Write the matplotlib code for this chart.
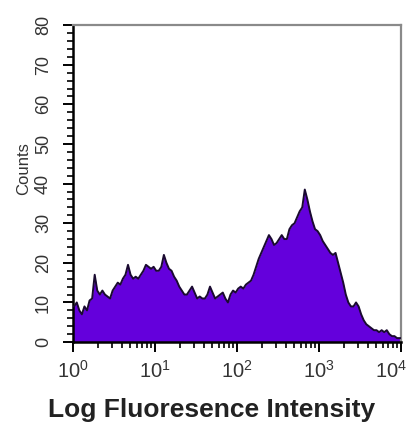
import numpy as np
import matplotlib; matplotlib.use('Agg')
import matplotlib.pyplot as plt
import matplotlib.transforms as mtrans
from matplotlib.ticker import MultipleLocator, LogLocator, NullFormatter

plt.rcParams['font.family'] = ['Liberation Sans', 'DejaVu Sans']

# --- Donnees: comptes par canal (128 canaux log sur 4 decades) ---
counts = [
    9, 10, 8, 7, 9, 8, 10.5, 11, 17, 13,
    12, 13, 12, 11.5, 11, 13, 14, 15, 14.5, 16,
    17, 19.5, 17, 16, 16.5, 16, 17, 18, 19.5, 19,
    18.5, 19, 18, 18, 19, 22, 20, 18.5, 18, 16.5,
    15.5, 14, 13, 12, 12, 13, 14, 12.5, 11, 11.5,
    11, 11, 12, 14, 12.5, 11, 11.5, 12, 12.5, 11,
    10, 12, 13, 12.5, 13.5, 14, 13.5, 14.5, 15, 15.5,
    17, 19, 21, 22.5, 24, 25.5, 27, 26, 24.5, 25,
    26, 27, 26, 26, 28.5, 29.5, 30, 31.5, 33, 34,
    38.5, 36, 33, 30.5, 28.5, 28, 27, 25.5, 24.5, 23.5,
    22.5, 22, 22.5, 20, 17.5, 15, 12, 10, 9, 9,
    10, 9, 7, 5.5, 4.5, 4, 3.5, 3, 3, 2.5,
    3, 2.5, 3, 2, 1.5, 1.5, 1, 1,
]
decades = (0, 4)
y_max = 80
y_ticks = [0, 10, 20, 30, 40, 50, 60, 70, 80]

fill_col = '#6400dc'

counts = np.array(counts, dtype=float)
n = len(counts)
# centres des canaux (log), avec les bords pour fermer le trace
lc = decades[0] + (np.arange(n) + 0.5) * (decades[1] - decades[0]) / n
xs = np.concatenate([[10**decades[0]], 10**lc, [10**decades[1]]])
ys = np.concatenate([[counts[0]], counts, [counts[-1]]])

fig = plt.figure(figsize=(4.12, 4.33), dpi=100)
ax = fig.add_axes([0.177, 0.21, 0.796, 0.732])

ax.fill_between(xs, ys, color=fill_col, lw=0, zorder=2)
ax.plot(xs, ys, color='#1a0a30', lw=1.4, zorder=3)

ax.set_xscale('log')
ax.set_xlim(10**decades[0], 10**decades[1])
ax.set_ylim(0, y_max)

# Axe Y
ax.set_yticks(y_ticks)
ax.yaxis.set_minor_locator(MultipleLocator(2))
ax.set_yticklabels([str(t) for t in y_ticks], rotation=90, va='center',
                   fontsize=13, color='#333')
ax.tick_params(axis='y', which='major', direction='out', length=7, width=1.4, pad=8)
ax.tick_params(axis='y', which='minor', direction='out', length=4, width=1.2)

# Axe X
ax.xaxis.set_major_locator(LogLocator(base=10, numticks=10))
ax.xaxis.set_minor_locator(LogLocator(base=10, subs=np.arange(2, 10), numticks=10))
ax.xaxis.set_minor_formatter(NullFormatter())
ax.tick_params(axis='x', which='major', direction='out', length=7, width=1.4,
               labelbottom=False)
ax.tick_params(axis='x', which='minor', direction='out', length=4, width=1.2)

# labels des decades (le dernier decale a gauche pour rester dans l'image)
trans = ax.get_xaxis_transform()
for d in range(decades[0], decades[1] + 1):
    tr = trans
    if d == decades[1]:
        tr = trans + mtrans.ScaledTranslation(-7/72, 0, fig.dpi_scale_trans)
    ax.text(10**d, -0.055, r'$\mathdefault{10^{%d}}$' % d, transform=tr,
            ha='center', va='top', fontsize=14.5, color='#333', clip_on=False)

for s in ['left', 'bottom']:
    ax.spines[s].set_color('black')
    ax.spines[s].set_linewidth(1.8)
for s in ['top', 'right']:
    ax.spines[s].set_color('#8a8a8a')
    ax.spines[s].set_linewidth(1.6)

fig.text(0.057, 0.61, 'Counts', rotation=90, ha='center', va='center',
         fontsize=12, color='#333')
fig.text(0.513, 0.052, 'Log Fluoresence Intensity', ha='center', va='center',
         fontsize=19, fontweight='bold', color='#222')

fig.savefig('out.png', dpi=100)
